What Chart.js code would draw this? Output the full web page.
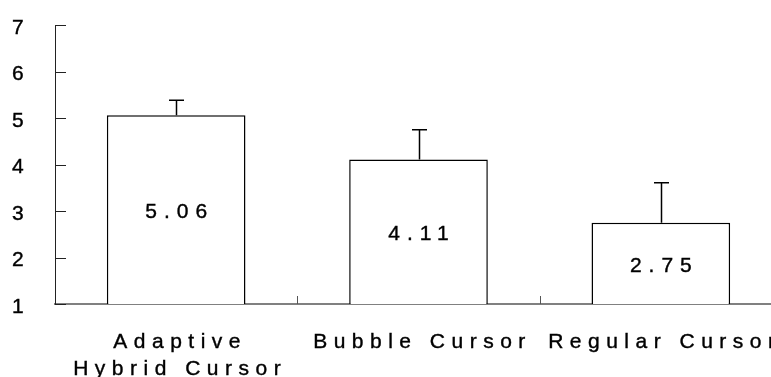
<!DOCTYPE html>
<html>
<head>
<meta charset="utf-8">
<script src="https://cdn.jsdelivr.net/npm/chart.js@4/dist/chart.umd.min.js"></script>
<style>
  html, body { margin: 0; padding: 0; background: #fff; overflow: hidden; }
  #wrap { width: 800px; height: 377px; position: relative; }
  canvas { display: block; }
</style>
</head>
<body>
<div id="wrap"><canvas id="c" width="800" height="377"></canvas></div>
<script>
const categories = [['Adaptive', 'Hybrid Cursor'], 'Bubble Cursor', 'Regular Cursor'];
const means = [5.06, 4.11, 2.75];
const errorTops = [5.38, 4.75, 3.61];
const yMin = 1, yMax = 7, yStep = 1;

const FONT = "'Liberation Sans', Arial, sans-serif";
const SPACING = 6.5;

const spacingPlugin = {
  id: 'spacing',
  beforeDraw(chart) { chart.ctx.letterSpacing = SPACING + 'px'; }
};

const decorPlugin = {
  id: 'decor',
  afterDatasetsDraw(chart) {
    const ctx = chart.ctx;
    const ys = chart.scales.y, xs = chart.scales.x;
    const meta = chart.getDatasetMeta(0);
    ctx.save();
    // y ticks (inward)
    ctx.strokeStyle = '#222';
    ctx.lineWidth = 1;
    for (let v = yMin; v <= yMax; v += yStep) {
      const py = Math.round(ys.getPixelForValue(v)) + 0.5;
      ctx.beginPath();
      ctx.moveTo(ys.right, py);
      ctx.lineTo(ys.right + 11, py);
      ctx.stroke();
    }
    // x ticks at category boundaries (inward)
    ctx.strokeStyle = '#555';
    const half = (xs.getPixelForValue(1) - xs.getPixelForValue(0)) / 2;
    for (let i = 0; i < categories.length; i++) {
      const px = Math.round(xs.getPixelForValue(i) + half) + 0.5;
      ctx.beginPath();
      ctx.moveTo(px, xs.top);
      ctx.lineTo(px, xs.top - 8);
      ctx.stroke();
    }
    // error bars
    ctx.strokeStyle = '#000';
    ctx.lineWidth = 1.5;
    meta.data.forEach((bar, i) => {
      const x = Math.round(bar.x) + 0.5;
      const top = ys.getPixelForValue(errorTops[i]);
      ctx.beginPath();
      ctx.moveTo(x, bar.y);
      ctx.lineTo(x, top);
      ctx.moveTo(x - 7.5, top);
      ctx.lineTo(x + 7.5, top);
      ctx.stroke();
    });
    // value labels
    ctx.fillStyle = '#000';
    ctx.strokeStyle = '#000';
    ctx.lineWidth = 0.4;
    ctx.font = '21px ' + FONT;
    ctx.letterSpacing = '7px';
    ctx.textAlign = 'center';
    ctx.textBaseline = 'middle';
    const basePx = ys.getPixelForValue(yMin);
    meta.data.forEach((bar, i) => {
      const tx = bar.x + 3.5, ty = (bar.y + basePx) / 2 + 3;
      const s = means[i].toFixed(2);
      ctx.fillText(s, tx, ty);
      ctx.strokeText(s, tx, ty);
    });
    ctx.restore();
  }
};

new Chart(document.getElementById('c'), {
  type: 'bar',
  data: {
    labels: categories,
    datasets: [{
      data: means,
      backgroundColor: '#fff',
      borderColor: '#000',
      borderWidth: 1.5,
      categoryPercentage: 1,
      barPercentage: 0.572
    }]
  },
  options: {
    responsive: false,
    animation: false,
    events: [],
    layout: { padding: { top: 25, right: 18, left: 12, bottom: 0 } },
    plugins: { legend: { display: false }, tooltip: { enabled: false } },
    scales: {
      x: {
        offset: true,
        grid: { display: false, drawTicks: false },
        border: { display: true, color: '#808080', width: 2 },
        ticks: {
          color: '#000',
          font: { family: FONT, size: 21, lineHeight: 1.31 },
          maxRotation: 0,
          autoSkip: false,
          padding: 24,
          labelOffset: 4,
          textStrokeColor: '#000',
          textStrokeWidth: 0.4
        },
        afterFit(scale) { scale.height = 73; }
      },
      y: {
        min: yMin,
        max: yMax,
        grid: { display: false, drawTicks: false },
        border: { display: true, color: '#222', width: 1 },
        ticks: {
          stepSize: yStep,
          color: '#000',
          font: { family: FONT, size: 21 },
          padding: 0,
          crossAlign: 'far',
          labelOffset: 3,
          textStrokeColor: '#000',
          textStrokeWidth: 0.4
        },
        afterFit(scale) { scale.width = 43; }
      }
    }
  },
  plugins: [spacingPlugin, decorPlugin]
});
</script>
</body>
</html>
